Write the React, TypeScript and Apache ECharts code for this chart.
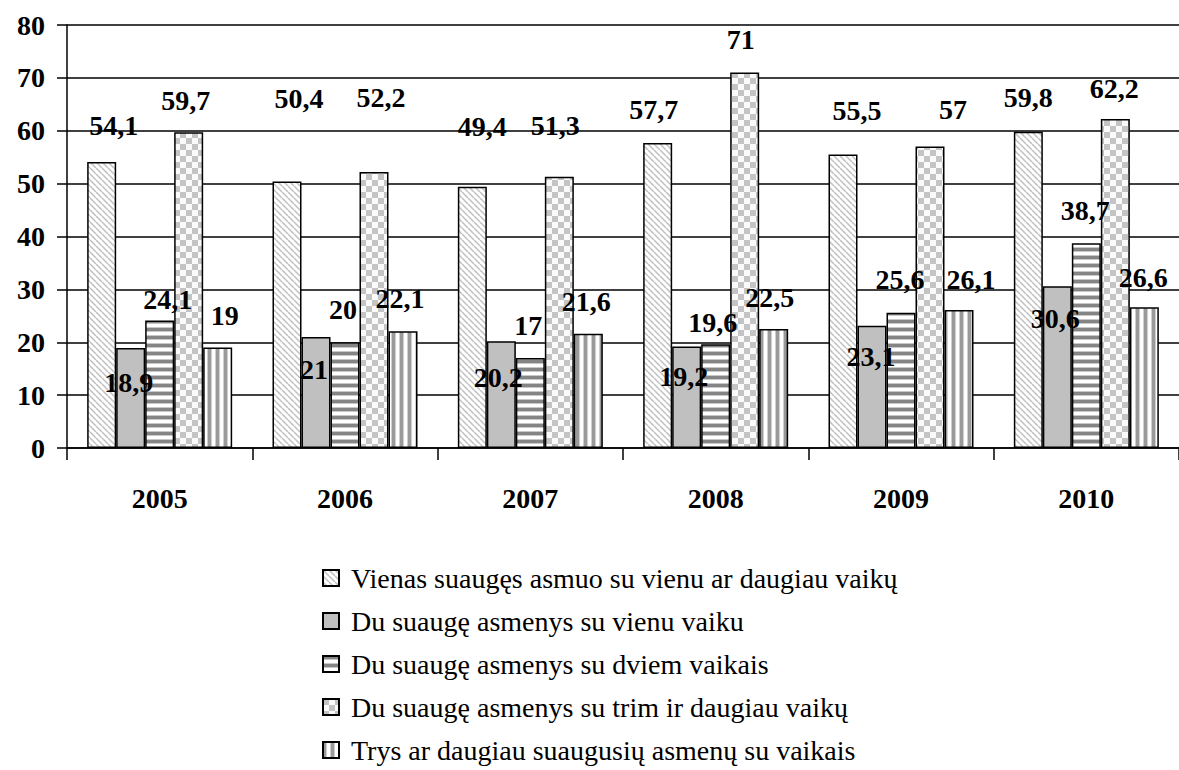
import React, { useEffect, useRef } from "react";
import * as echarts from "echarts";

const years = ["2005", "2006", "2007", "2008", "2009", "2010"];
const seriesNames = [
  "Vienas suaugęs asmuo su vienu ar daugiau vaikų",
  "Du suaugę asmenys su vienu vaiku",
  "Du suaugę asmenys su dviem vaikais",
  "Du suaugę asmenys su trim ir daugiau vaikų",
  "Trys ar daugiau suaugusių asmenų su vaikais",
];
const oneAdult = [54.1, 50.4, 49.4, 57.7, 55.5, 59.8];
const twoAdultsOneChild = [18.9, 21, 20.2, 19.2, 23.1, 30.6];
const twoAdultsTwoChildren = [24.1, 20, 17, 19.6, 25.6, 38.7];
const twoAdultsThreePlus = [59.7, 52.2, 51.3, 71, 57, 62.2];
const threePlusAdults = [19, 22.1, 21.6, 22.5, 26.1, 26.6];
const yTicks = [0, 10, 20, 30, 40, 50, 60, 70, 80];

// label offsets [dx, dy] relative to default "top" label position
const labelOffsets1 = [[12, -19], [12, -66], [10, -43], [-4, -16], [14, -27], [0, -17]];
const labelOffsets2 = [[-2, 51], [-2, 50], [-3, 53], [-3, 47], [-1, 48], [-2, 49]];
const labelOffsets3 = [[8, -4], [-2, -16], [-2, -16], [-3, -5], [-1, -16], [-1, -16]];
const labelOffsets4 = [[-3, -15], [7, -57], [-4, -34], [-4, -16], [23, -20], [-1, -14]];
const labelOffsets5 = [[7, -15], [-3, -16], [-2, -15], [-4, -15], [12, -13], [-1, -13]];

function tile(w: number, h: number, draw: (ctx: CanvasRenderingContext2D) => void) {
  const c = document.createElement("canvas");
  c.width = w;
  c.height = h;
  const ctx = c.getContext("2d")!;
  draw(ctx);
  return { image: c, repeat: "repeat", imageWidth: w, imageHeight: h } as any;
}

function makePatterns() {
  const diag = tile(6, 6, (ctx) => {
    ctx.fillStyle = "#ffffff";
    ctx.fillRect(0, 0, 6, 6);
    ctx.strokeStyle = "#c0c0c0";
    ctx.lineWidth = 1.5;
    for (const o of [-6, 0, 6]) {
      ctx.beginPath();
      ctx.moveTo(o, 0);
      ctx.lineTo(o + 6, 6);
      ctx.stroke();
    }
  });
  const horiz = tile(4, 8, (ctx) => {
    ctx.fillStyle = "#ffffff";
    ctx.fillRect(0, 0, 4, 8);
    ctx.fillStyle = "#858585";
    ctx.fillRect(0, 0, 4, 3);
    ctx.fillStyle = "#c8c8c8";
    ctx.fillRect(0, 3, 4, 1);
    ctx.fillRect(0, 7, 4, 1);
  });
  const checker = tile(12, 12, (ctx) => {
    ctx.fillStyle = "#fafafa";
    ctx.fillRect(0, 0, 12, 12);
    ctx.fillStyle = "#c4c4c4";
    ctx.fillRect(0, 0, 6, 6);
    ctx.fillRect(6, 6, 6, 6);
  });
  const vert = tile(8, 4, (ctx) => {
    ctx.fillStyle = "#ffffff";
    ctx.fillRect(0, 0, 8, 4);
    ctx.fillStyle = "#9a9a9a";
    ctx.fillRect(0, 0, 3, 4);
    ctx.fillStyle = "#cfcfcf";
    ctx.fillRect(3, 0, 1, 4);
    ctx.fillRect(7, 0, 1, 4);
  });
  return [diag, "#c0c0c0", horiz, checker, vert];
}

const fmt = (v: number) => String(v).replace(".", ",");

export default function App() {
  const ref = useRef<HTMLDivElement>(null);
  useEffect(() => {
    if (!ref.current) return;
    const chart = echarts.init(ref.current, null, { renderer: "svg" });
    const patterns = makePatterns();
    const values = [oneAdult, twoAdultsOneChild, twoAdultsTwoChildren, twoAdultsThreePlus, threePlusAdults];
    const offsets = [labelOffsets1, labelOffsets2, labelOffsets3, labelOffsets4, labelOffsets5];
    const font = "Liberation Serif";
    chart.setOption({
      animation: false,
      backgroundColor: "#ffffff",
      textStyle: { fontFamily: font },
      grid: { left: 67, right: -5, top: 25, bottom: 322, containLabel: false },
      legend: {
        orient: "vertical",
        left: 322,
        top: 564,
        padding: 0,
        itemWidth: 16,
        itemHeight: 16,
        itemGap: 15,
        icon: "rect",
        textStyle: { fontFamily: font, fontSize: 28, color: "#000", padding: [0, 0, 0, 7] },
        data: seriesNames,
      },
      xAxis: {
        type: "category",
        data: years,
        axisLine: { lineStyle: { color: "#000", width: 1.5 } },
        axisTick: { show: true, length: 12, alignWithLabel: false, lineStyle: { color: "#000", width: 1.5 } },
        axisLabel: { fontFamily: font, fontSize: 28, fontWeight: "bold", color: "#000", margin: 36 },
        splitLine: { show: false },
      },
      yAxis: {
        type: "value",
        min: 0,
        max: 80,
        interval: 10,
        axisLine: { show: true, lineStyle: { color: "#000", width: 1.5 } },
        axisTick: { show: true, length: 10, lineStyle: { color: "#000", width: 1.5 } },
        axisLabel: {
          fontFamily: font,
          fontSize: 28,
          fontWeight: "bold",
          color: "#000",
          margin: 22,
          formatter: (v: number) => (yTicks.includes(v) ? String(v) : ""),
        },
        splitLine: { show: true, lineStyle: { color: "#000", width: 1.5 } },
      },
      series: values.map((vals, si) => ({
        name: seriesNames[si],
        type: "bar",
        barWidth: 29,
        barGap: "0%",
        itemStyle: { color: patterns[si], borderColor: "#000", borderWidth: 1.5 },
        label: {
          show: true,
          position: "top",
          distance: 3,
          fontFamily: font,
          fontSize: 28,
          fontWeight: "bold",
          color: "#000",
          formatter: (p: any) => fmt(p.value),
        },
        data: vals.map((v, i) => ({ value: v, label: { offset: offsets[si][i] } })),
      })),
    });
    return () => chart.dispose();
  }, []);
  return (
    <div
      ref={ref}
      style={{ position: "absolute", left: 0, top: 0, width: 1179, height: 770, background: "#fff" }}
    />
  );
}
